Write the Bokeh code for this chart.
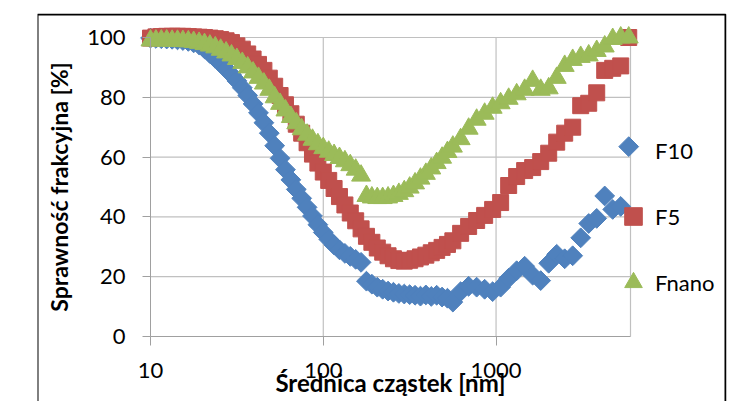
import numpy as np
from bokeh.plotting import figure
from bokeh.models import (Range1d, FixedTicker, NumeralTickFormatter, Legend,
                          LegendItem, BoxAnnotation, ColumnDataSource)
from bokeh.embed import file_html
from bokeh.resources import INLINE

# ---------------- data ----------------
diameter_nm = [10.0, 10.75, 11.55, 12.41, 13.34, 14.33, 15.40, 16.55, 17.78, 19.11,
               20.54, 22.07, 23.71, 25.48, 27.38, 29.43, 31.62, 33.98, 36.52, 39.24,
               42.17, 45.32, 48.70, 52.33, 56.23, 60.43, 64.94, 69.78, 74.99, 80.59,
               86.60, 93.06, 100.0, 107.5, 115.5, 124.1, 133.4, 143.3, 154.0, 165.5,
               177.8, 191.1, 205.4, 220.7, 237.1, 254.8, 273.8, 294.3, 316.2, 339.8,
               365.2, 392.4, 421.7, 453.2, 487.0, 523.4, 562.3,
               623.7, 693.9, 772.1, 859.0, 955.6, 1063, 1183, 1316, 1464, 1629,
               1813, 2017, 2244, 2496, 2777, 3090, 3438, 3825, 4255, 4734, 5267, 5860]

f10 = [99.8, 99.7, 99.6, 99.5, 99.4, 99.2, 99.0, 98.7, 98.2,
       97.5, 96.2, 94.6, 93.0, 91.3, 89.5, 87.6, 85.5, 83.2, 80.6,
       77.8, 74.8, 71.5, 68.0, 63.8, 59.6, 55.8, 52.4, 49.2, 46.2,
       43.2, 40.3, 37.4, 34.8, 32.5, 30.6, 29.0, 27.8, 26.8, 25.8, 24.8,
       18.5, 17.5, 16.5, 15.8, 15.2, 14.8, 14.4, 14.2, 14.0, 13.8, 13.5, 13.9, 13.4,
       13.8, 13.2, 12.8, 11.5,
       15.0, 16.8, 16.5, 15.8, 15.0, 16.5, 19.5, 22.0, 23.5, 20.5, 18.7,
       24.5, 27.5, 26.0, 27.0, 33.0, 37.8, 39.5, 47.0, 42.5, 43.5, 63.5]

f5 = [99.8, 100.2, 100.3, 100.4, 100.4, 100.4, 100.4, 100.3, 100.2,
      100.1, 100.0, 99.8, 99.6, 99.3, 98.9, 98.3, 97.2, 96.1, 94.5,
      92.8, 91.0, 89.0, 86.4, 83.7, 80.6, 77.5, 74.5, 71.0, 68.0,
      64.8, 61.0, 58.0, 55.0, 52.2, 49.5, 46.8, 44.0, 41.3, 38.7, 36.0,
      33.5, 31.5, 29.6, 28.2, 27.0, 26.0, 25.4, 25.2, 25.5, 26.0, 26.6, 27.2, 28.0,
      28.8, 29.8, 30.8, 32.0,
      34.5, 36.8, 38.8, 40.5, 42.5, 44.8, 50.5, 53.5, 55.5, 56.5, 58.5,
      61.3, 65.0, 68.0, 70.0, 77.2, 78.0, 81.5, 89.0, 89.7, 90.5, 100.0]

fnano = [99.0, 99.0, 99.0, 99.0, 98.9, 98.9, 98.8, 98.7, 98.5,
         98.2, 97.8, 97.3, 96.7, 95.9, 95.0, 94.0, 92.8, 91.5, 90.0,
         88.3, 86.5, 84.6, 82.5, 80.0, 77.8, 75.6, 73.4, 71.3, 69.3,
         67.5, 65.8, 64.3, 63.0, 61.8, 60.7, 59.7, 58.6, 57.3, 55.8, 53.8,
         47.0, 46.5, 46.3, 46.3, 46.5, 47.0, 47.7, 48.6, 49.8, 51.2, 52.8, 54.4, 56.2,
         58.0, 59.8, 61.7, 63.5,
         66.0, 69.5, 72.5, 74.5, 76.5, 78.0, 79.5, 81.0, 82.5, 85.5, 82.5,
         83.0, 86.5, 90.5, 92.5, 93.5, 94.0, 95.5, 97.0, 99.5, 100.0, 100.0]

series_names = ["F10", "F5", "Fnano"]
x_ticks = [10, 100, 1000]
y_ticks = [0, 20, 40, 60, 80, 100]
x_min, x_max = 10, 6000
y_min, y_max = 0, 100

# ---------------- layout (pixels) ----------------
W, H = 732, 401
FRAME_L, FRAME_R, FRAME_T, FRAME_B = 37, 726, 13, 401
PLOT_L, PLOT_R, PLOT_T, PLOT_B = 150, 630, 37, 336

lo, hi = np.log10(x_min), np.log10(x_max)
dpx = (hi - lo) / (PLOT_R - PLOT_L)
x_start = 10 ** (lo - (PLOT_L - FRAME_L) * dpx)
x_end = 10 ** (hi + (FRAME_R - PLOT_R) * dpx)
dpy = (y_max - y_min) / (PLOT_B - PLOT_T)
y_end = y_max + (PLOT_T - FRAME_T) * dpy
y_start = y_min - (FRAME_B - PLOT_B) * dpy

BLUE, RED, GREEN = "#4f81bd", "#c0504d", "#9bbb59"
GRID = "#c0c0c0"
AXIS = "#a0a0a0"
FONT = "Lato"

p = figure(width=W, height=H, x_axis_type="log",
           x_range=Range1d(x_start, x_end), y_range=Range1d(y_start, y_end),
           output_backend="svg", toolbar_location=None,
           min_border_left=FRAME_L, min_border_right=W - FRAME_R,
           min_border_top=FRAME_T, min_border_bottom=H - FRAME_B)
p.outline_line_color = None
p.background_fill_color = "white"
p.border_fill_color = "white"
p.xgrid.visible = False
p.ygrid.visible = False

# grid lines (from tick lists)
hy = y_ticks[1:]
p.segment(x0=[x_min] * len(hy), y0=hy, x1=[x_max] * len(hy), y1=hy,
          line_color=GRID, line_width=1.2)
vx = x_ticks[1:] + [x_max]
p.segment(x0=vx, y0=[y_min] * len(vx), x1=vx, y1=[y_max] * len(vx),
          line_color=GRID, line_width=1.2)

# axes
xa = p.xaxis[0]
xa.fixed_location = y_min
xa.bounds = (x_min, x_max)
xa.ticker = FixedTicker(ticks=x_ticks, minor_ticks=[])
xa.formatter = NumeralTickFormatter(format="0")
xa.major_tick_out = 9
xa.major_tick_in = 0
xa.minor_tick_line_color = None
xa.axis_line_color = AXIS
xa.major_tick_line_color = AXIS
xa.major_label_text_font = FONT
xa.major_label_text_font_size = "22px"
xa.major_label_text_color = "black"
xa.major_label_standoff = 17
xa.axis_label = "Średnica cząstek [nm]"
xa.axis_label_text_font = FONT
xa.axis_label_text_font_style = "bold"
xa.axis_label_text_font_size = "24px"
xa.axis_label_text_color = "black"
xa.axis_label_standoff = -13

ya = p.yaxis[0]
ya.fixed_location = x_min
ya.bounds = (y_min, y_max)
ya.ticker = FixedTicker(ticks=y_ticks, minor_ticks=[])
ya.major_tick_out = 8
ya.major_tick_in = 0
ya.minor_tick_line_color = None
ya.axis_line_color = AXIS
ya.major_tick_line_color = AXIS
ya.major_label_text_font = FONT
ya.major_label_text_font_size = "22px"
ya.major_label_text_color = "black"
ya.major_label_standoff = 17
ya.axis_label = "Sprawność frakcyjna [%]"
ya.axis_label_text_font = FONT
ya.axis_label_text_font_style = "bold"
ya.axis_label_text_font_size = "23px"
ya.axis_label_text_color = "black"
ya.axis_label_standoff = 11

# series
src = ColumnDataSource(dict(d=diameter_nm, f10=f10, f5=f5, fnano=fnano))
r10 = p.scatter("d", "f10", source=src, marker="square", size=14, angle=np.pi / 4,
                fill_color=BLUE, line_color=BLUE)
r5 = p.scatter("d", "f5", source=src, marker="square", size=16,
               fill_color=RED, line_color=RED)
rn = p.scatter("d", "fnano", source=src, marker="triangle", size=19,
               fill_color=GREEN, line_color=GREEN)
# legend-only glyph for the diamond marker
r10_leg = p.scatter(x=[], y=[], marker="diamond", size=14,
                    fill_color=BLUE, line_color=BLUE)

legend = Legend(items=[LegendItem(label=series_names[0], renderers=[r10_leg]),
                       LegendItem(label=series_names[1], renderers=[r5]),
                       LegendItem(label=series_names[2], renderers=[rn])],
                location=(574, 97), orientation="vertical",
                glyph_width=44, glyph_height=44, spacing=22, label_standoff=0,
                padding=0, margin=0, border_line_color=None,
                background_fill_alpha=0,
                label_text_font=FONT, label_text_font_size="22px",
                label_text_color="black")
p.add_layout(legend, "center")

# chart border
p.add_layout(BoxAnnotation(left=FRAME_L, right=FRAME_R - 1, top=FRAME_T + 1, bottom=H + 40,
                           left_units="canvas", right_units="canvas",
                           top_units="canvas", bottom_units="canvas",
                           fill_alpha=0, line_color="black", line_alpha=1.0,
                           line_width=2))

open("out.html", "w").write(file_html(p, INLINE))
